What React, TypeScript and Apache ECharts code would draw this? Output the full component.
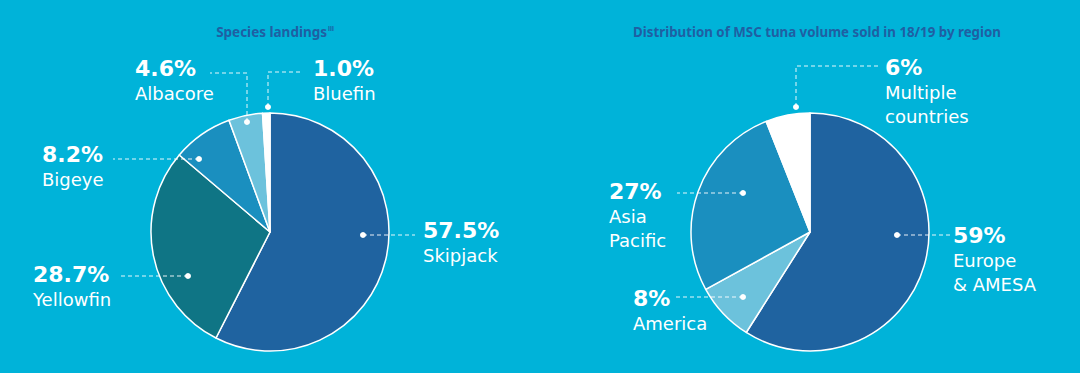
import React, { useEffect, useRef } from "react";
import * as echarts from "echarts";

// ---- data ----
const speciesNames = ["Skipjack", "Yellowfin", "Bigeye", "Albacore", "Bluefin"];
const speciesShares = [57.5, 28.7, 8.2, 4.6, 1.0];
const speciesTitle = "Species landings";
const speciesNote = "iii";

const regionNames = ["Europe\n& AMESA", "America", "Asia\nPacific", "Multiple\ncountries"];
const regionShares = [59, 8, 27, 6];
const regionTitle = "Distribution of MSC tuna volume sold in 18/19 by region";

// ---- styles ----
const BG = "#00b3d9";
const TITLE_COLOR = "#1f5fa3";
const speciesColors = ["#1f63a0", "#0f7585", "#1a8fbf", "#6cc2dc", "#ffffff"];
const regionColors = ["#1f63a0", "#6cc2dc", "#1a8fbf", "#ffffff"];

// ---- label layout (label left x, percent baseline y) and leader lines (dot first) ----
const speciesLabelPos = [
  [423, 238],
  [33, 282],
  [42, 162],
  [135, 76],
  [313, 76],
];
const speciesLines = [
  [[363, 235], [389, 235], [415, 235]],
  [[188, 276], [155, 276], [121, 276]],
  [[199, 159], [156, 159], [113, 159]],
  [[247, 122], [247, 73], [210, 73]],
  [[268, 107], [268, 72], [300, 72]],
];
const regionLabelPos = [
  [953, 243],
  [633, 306],
  [609, 199],
  [885, 75],
];
const regionLines = [
  [[897, 235], [923, 235], [950, 235]],
  [[743, 297], [708, 297], [674, 297]],
  [[743, 193], [710, 193], [677, 193]],
  [[796, 107], [796, 66], [880, 66]],
];

const FONT = "DejaVu Sans";

function makePie(
  names: string[],
  values: number[],
  colors: string[],
  center: number[],
  decimals: number,
  pos: number[][]
) {
  return {
    type: "pie",
    center,
    radius: 119,
    startAngle: 90,
    clockwise: true,
    avoidLabelOverlap: false,
    silent: true,
    itemStyle: { borderColor: "#ffffff", borderWidth: 1.5 },
    data: names.map((n, i) => ({
      name: n,
      value: values[i],
      itemStyle: { color: colors[i] },
    })),
    label: {
      show: true,
      position: "outside",
      formatter: (p: any) =>
        "{p|" +
        (p.value as number).toFixed(decimals) +
        "%}\n" +
        String(p.name)
          .split("\n")
          .map((s: string) => "{n|" + s + "}")
          .join("\n"),
      rich: {
        p: {
          fontFamily: FONT,
          fontWeight: "bold",
          fontSize: 22,
          lineHeight: 26,
          color: "#ffffff",
        },
        n: {
          fontFamily: FONT,
          fontSize: 18,
          lineHeight: 24,
          color: "#ffffff",
        },
      },
    },
    labelLine: { show: false },
    labelLayout: (params: any) => {
      const i = params.dataIndex;
      const [x, base] = pos[i];
      return { x, y: base - 21, align: "left", verticalAlign: "top" };
    },
  };
}

export default function App() {
  const ref = useRef<HTMLDivElement>(null);
  useEffect(() => {
    if (!ref.current) return;
    const chart = echarts.init(ref.current, undefined, { renderer: "svg" });
    const allLines = [...speciesLines, ...regionLines];
    const leaders = allLines.map((l) => ({
      type: "polyline",
      shape: { points: l },
      style: { stroke: "rgba(255,255,255,0.9)", lineWidth: 1, lineDash: [4, 3], fill: null },
      z: 100,
      silent: true,
    }));
    const dots = allLines.map((l) => ({
      type: "circle",
      shape: { cx: l[0][0], cy: l[0][1], r: 3 },
      style: { fill: "#ffffff" },
      z: 101,
      silent: true,
    }));
    chart.setOption({
      animation: false,
      backgroundColor: BG,
      title: [
        {
          text: "{a|" + speciesTitle + "}{s|" + speciesNote + "}",
          left: 270,
          top: 20,
          textAlign: "center",
          textStyle: {
            rich: {
              a: { fontFamily: "Noto Sans", fontWeight: "bold", fontSize: 13.5, color: TITLE_COLOR },
              s: { fontFamily: "Noto Sans", fontSize: 6.5, color: TITLE_COLOR, verticalAlign: "top", padding: [0, 0, 7, 1] },
            },
          },
        },
        {
          text: regionTitle,
          left: 812,
          top: 20,
          textAlign: "center",
          textStyle: { fontFamily: "Noto Sans", fontWeight: "bold", fontSize: 13.3, color: TITLE_COLOR },
        },
      ],
      graphic: [...leaders, ...dots],
      series: [
        makePie(speciesNames, speciesShares, speciesColors, [270, 232], 1, speciesLabelPos),
        makePie(regionNames, regionShares, regionColors, [810, 232], 0, regionLabelPos),
      ],
    });
    return () => chart.dispose();
  }, []);
  return (
    <div
      ref={ref}
      style={{ position: "fixed", left: 0, top: 0, width: 1080, height: 373 }}
    />
  );
}
